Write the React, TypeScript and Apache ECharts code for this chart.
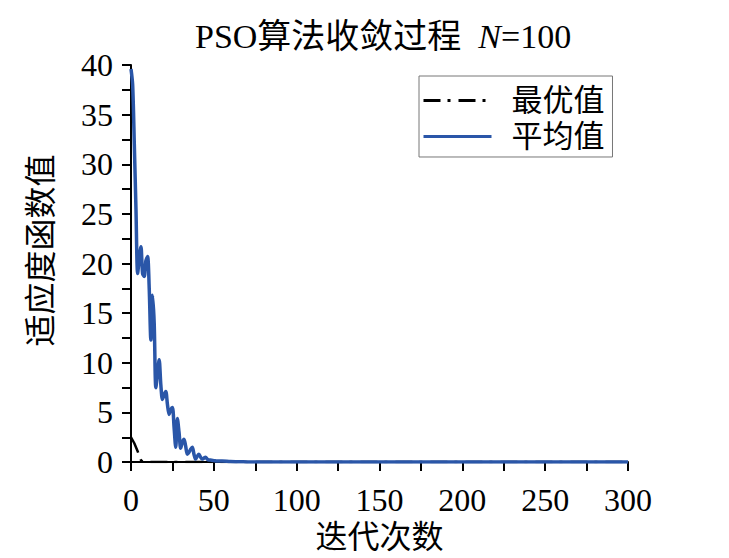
import React, { useEffect, useRef } from "react";
import * as echarts from "echarts";

const titleText = "PSO算法收敛过程";
const titleParam = "N";
const titleValue = "=100";
const xName = "迭代次数";
const yName = "适应度函数值";
const bestName = "最优值";
const meanName = "平均值";

const xTicks = { min: 0, max: 300, interval: 50 };
const yTicks = { min: 0, max: 40, interval: 5 };

const meanIters = [
  0, 1, 2, 3, 4, 5, 6, 7, 8, 9, 10, 11, 12, 13, 14, 15, 16, 17, 18, 19, 20,
  21, 22, 23, 24, 25, 26, 27, 28, 29, 30, 31, 32, 33, 34, 35, 36, 37, 38, 39,
  40, 41, 42, 43, 44, 45, 46, 47, 48, 50, 52, 55, 60, 70, 80, 100, 150, 200,
  250, 300,
];
const meanValues = [
  39.6, 38.0, 32.0, 25.5, 19.0, 20.5, 21.7, 19.0, 18.7, 20.3, 20.7, 17.5,
  12.3, 16.8, 14.0, 7.5, 9.0, 10.3, 7.8, 6.3, 6.8, 7.1, 5.8, 4.8, 5.3, 5.5,
  3.5, 1.5, 4.4, 3.0, 1.4, 2.0, 2.3, 1.6, 0.8, 1.0, 1.3, 1.5, 0.8, 0.3, 0.6,
  0.8, 0.5, 0.3, 0.4, 0.5, 0.3, 0.2, 0.2, 0.15, 0.1, 0.1, 0.05, 0.02, 0, 0,
  0, 0, 0, 0,
];

const bestIters = [0, 1, 2, 3, 4, 5, 6, 7, 10, 20, 50, 100, 200, 300];
const bestValues = [2.5, 2.2, 1.9, 1.5, 1.1, 0.6, 0.2, 0.05, 0.02, 0, 0, 0, 0, 0];

const serif = "'Liberation Serif', 'Times New Roman', 'Noto Sans CJK SC', serif";
const blue = "#2a56a8";

export default function App() {
  const ref = useRef<HTMLDivElement>(null);
  useEffect(() => {
    document.body.style.margin = "0";
    const chart = echarts.init(ref.current!, null, { renderer: "svg" });
    const meanData = meanIters.map((x, i) => [x, meanValues[i]]);
    const bestData = bestIters.map((x, i) => [x, bestValues[i]]);
    const axisCommon = {
      axisLine: { show: true, lineStyle: { color: "#000", width: 2 } },
      axisTick: { show: true, inside: false, length: 9, lineStyle: { color: "#000", width: 2 } },
      minorTick: { show: true, splitNumber: 2, length: 9, lineStyle: { color: "#000", width: 2 } },
      splitLine: { show: false },
      minorSplitLine: { show: false },
    };
    chart.setOption({
      animation: false,
      backgroundColor: "#fff",
      title: {
        text: `${titleText}  {i|${titleParam}}${titleValue}`,
        left: 190,
        top: 14,
        textStyle: {
          fontFamily: serif,
          fontSize: 34,
          fontWeight: "normal",
          color: "#000",
          rich: {
            i: { fontFamily: serif, fontSize: 34, fontStyle: "italic", color: "#000" },
          },
        },
      },
      grid: { left: 131, top: 65, width: 497, height: 400, containLabel: false },
      legend: {
        orient: "vertical",
        left: 419,
        top: 76,
        padding: [9, 8, 5, 3],
        itemGap: 5,
        itemWidth: 68,
        itemHeight: 14,
        borderColor: "#777",
        borderWidth: 1,
        backgroundColor: "#fff",
        itemStyle: { opacity: 0 },
        lineStyle: { width: 3 },
        data: [bestName, meanName],
        textStyle: {
          fontFamily: serif,
          fontSize: 31,
          color: "#000",
          padding: [0, 0, 0, 15],
        },
      },
      xAxis: {
        type: "value",
        min: xTicks.min,
        max: xTicks.max,
        interval: xTicks.interval,
        name: xName,
        nameLocation: "middle",
        nameGap: 50,
        nameTextStyle: { fontFamily: serif, fontSize: 32, color: "#000" },
        axisLabel: { fontFamily: serif, fontSize: 32, color: "#000", margin: 22 },
        ...axisCommon,
      },
      yAxis: {
        type: "value",
        min: yTicks.min,
        max: yTicks.max,
        interval: yTicks.interval,
        name: yName,
        nameLocation: "middle",
        nameRotate: 90,
        nameGap: 74,
        nameTextStyle: { fontFamily: serif, fontSize: 32, color: "#000", padding: [0, 0, 0, 26] },
        axisLabel: { fontFamily: serif, fontSize: 32, color: "#000", margin: 18 },
        ...axisCommon,
      },
      series: [
        {
          name: bestName,
          type: "line",
          data: bestData,
          symbol: "none",
          lineStyle: { color: "#000", width: 2.5, type: [17, 7, 3, 8] },
          itemStyle: { color: "#000" },
          z: 2,
        },
        {
          name: meanName,
          type: "line",
          data: meanData,
          symbol: "none",
          smooth: 0.3,
          lineStyle: { color: blue, width: 3.5 },
          itemStyle: { color: blue },
          z: 3,
        },
      ],
    });
    return () => chart.dispose();
  }, []);
  return <div ref={ref} style={{ width: 729, height: 558 }} />;
}
